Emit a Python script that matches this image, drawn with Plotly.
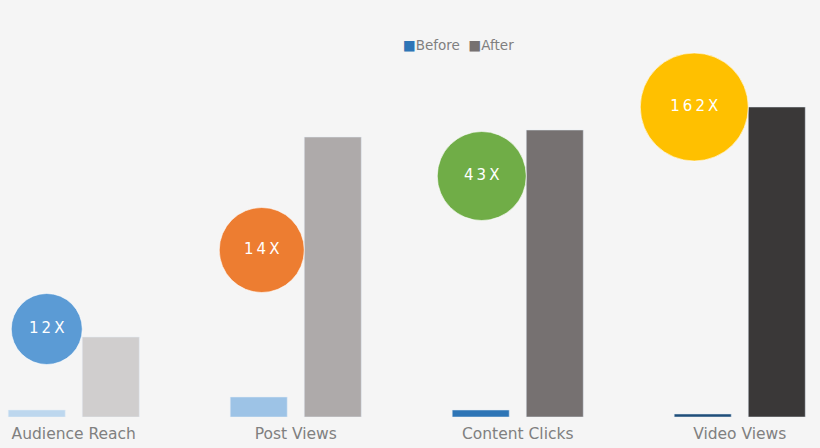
#!/usr/bin/env python3
# -*- coding: utf-8 -*-

import plotly.graph_objects as go

# categories and values (arbitrary units)
categories = ["Audience Reach", "Post Views", "Content Clicks", "Video Views"]
before_values = [7, 20, 7, 3]
after_values = [80, 280, 287, 310]

# growth bubbles
multipliers = ["12X", "14X", "43X", "162X"]
bubble_levels = [88, 167, 241, 310]
bubble_diameters = [71, 85, 89, 108]

series_names = ["Before", "After"]
series_colors = ["#2e75b6", "#767171"]
before_colors = ["#bdd7ee", "#9dc3e6", "#2e75b6", "#1f4e79"]
after_colors = ["#d0cece", "#aeaaaa", "#767171", "#3a3838"]
bubble_colors = ["#5b9bd5", "#ed7d31", "#70ad47", "#ffc000"]

W, H = 820, 448
BG = "#f5f5f5"
X_RANGE = [-0.3322, 3.3615]
px_per_unit = W / (X_RANGE[1] - X_RANGE[0])
BARGAP = 0.333
GROUPGAP = 0.23

fig = go.Figure()

fig.add_trace(go.Bar(
	x=categories, y=before_values,
	marker=dict(color=before_colors),
	offsetgroup="before",
	name=series_names[0],
	showlegend=False))

fig.add_trace(go.Bar(
	x=categories, y=after_values,
	marker=dict(color=after_colors),
	offsetgroup="after",
	name=series_names[1],
	showlegend=False))

# bubbles sit just left of the "after" bar, touching it
slot = (1 - BARGAP) / 2
after_left = slot * GROUPGAP / 2
bubble_x = [i + after_left - (d / 2) / px_per_unit for i, d in enumerate(bubble_diameters)]
spaced = ["\u2009".join(list(m)) for m in multipliers]

fig.add_trace(go.Scatter(
	x=bubble_x, y=bubble_levels,
	xaxis="x2",
	mode="markers+text",
	marker=dict(size=bubble_diameters, color=bubble_colors,
		line=dict(width=1, color="rgba(255,255,255,0.6)"), opacity=1),
	text=spaced,
	textposition="middle center",
	textfont=dict(family="DejaVu Sans", size=15, color="white"),
	hoverinfo="skip",
	showlegend=False))

# legend drawn as one line of text: coloured square + series name
legend_text = "&nbsp;&nbsp;".join(
	'<span style="color:%s">\u25a0</span>%s' % (c, n)
	for n, c in zip(series_names, series_colors))

fig.add_annotation(
	text=legend_text,
	xref="paper", yref="paper",
	x=401 / W, xanchor="left",
	y=(417 - 45) / 397, yanchor="middle",
	showarrow=False,
	font=dict(family="DejaVu Sans", size=13.5, color="#7f7f7f"))

fig.update_layout(
	width=W, height=H,
	margin=dict(l=0, r=0, t=20, b=31),
	paper_bgcolor=BG,
	plot_bgcolor=BG,
	barmode="group",
	bargap=BARGAP,
	bargroupgap=GROUPGAP,
	xaxis=dict(
		range=X_RANGE,
		showgrid=False, zeroline=False, showline=False,
		ticks="",
		ticklabelstandoff=5,
		tickfont=dict(family="DejaVu Sans", size=15.5, color="#808080")),
	xaxis2=dict(
		range=X_RANGE, overlaying="x",
		visible=False),
	yaxis=dict(
		range=[0, 397],
		visible=False),
	showlegend=False)

fig.write_html("out.html",
	config=dict(displayModeBar=False),
	post_script="document.body.style.margin='0';document.body.style.background='%s';" % BG)
